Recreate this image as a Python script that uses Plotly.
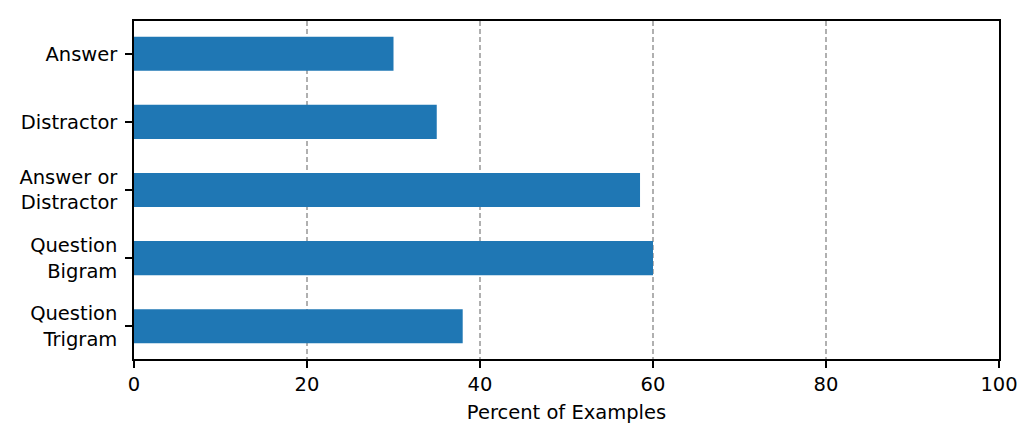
import plotly.graph_objects as go

categories = ["Answer", "Distractor", "Answer or<br>Distractor", "Question<br>Bigram", "Question<br>Trigram"]
percents = [30.0, 35.0, 58.5, 60.0, 38.0]
x_ticks = [0, 20, 40, 60, 80, 100]

fig = go.Figure()
fig.add_trace(go.Bar(
    x=percents, y=categories, orientation="h",
    marker=dict(color="#1f77b4", line=dict(width=0)),
    width=0.5,
))

font = dict(family="DejaVu Sans", size=19.5, color="black")
fig.update_layout(
    width=1035, height=438,
    margin=dict(l=134, r=36, t=21, b=79),
    paper_bgcolor="white", plot_bgcolor="white",
    font=font, showlegend=False, bargap=0.5,
)
fig.update_xaxes(
    range=[0, 100], tickvals=x_ticks, ticktext=[str(v) for v in x_ticks],
    showgrid=True, gridcolor="#b0b0b0", griddash="5px,3px", gridwidth=1.5,
    showline=True, mirror=True, linecolor="black", linewidth=1.5,
    ticks="outside", ticklen=7, tickwidth=1.5, tickcolor="black",
    zeroline=False, title=dict(text="Percent of Examples", font=font, standoff=10),
    tickfont=font,
)
fig.update_yaxes(
    type="category", categoryorder="array", categoryarray=categories,
    range=[4.48, -0.48], showgrid=False,
    showline=True, mirror=True, linecolor="black", linewidth=1.5,
    ticks="outside", ticklen=7, tickwidth=1.5, tickcolor="black",
    zeroline=False, tickfont=font, ticklabelstandoff=4,
)
fig.write_html("out.html")
